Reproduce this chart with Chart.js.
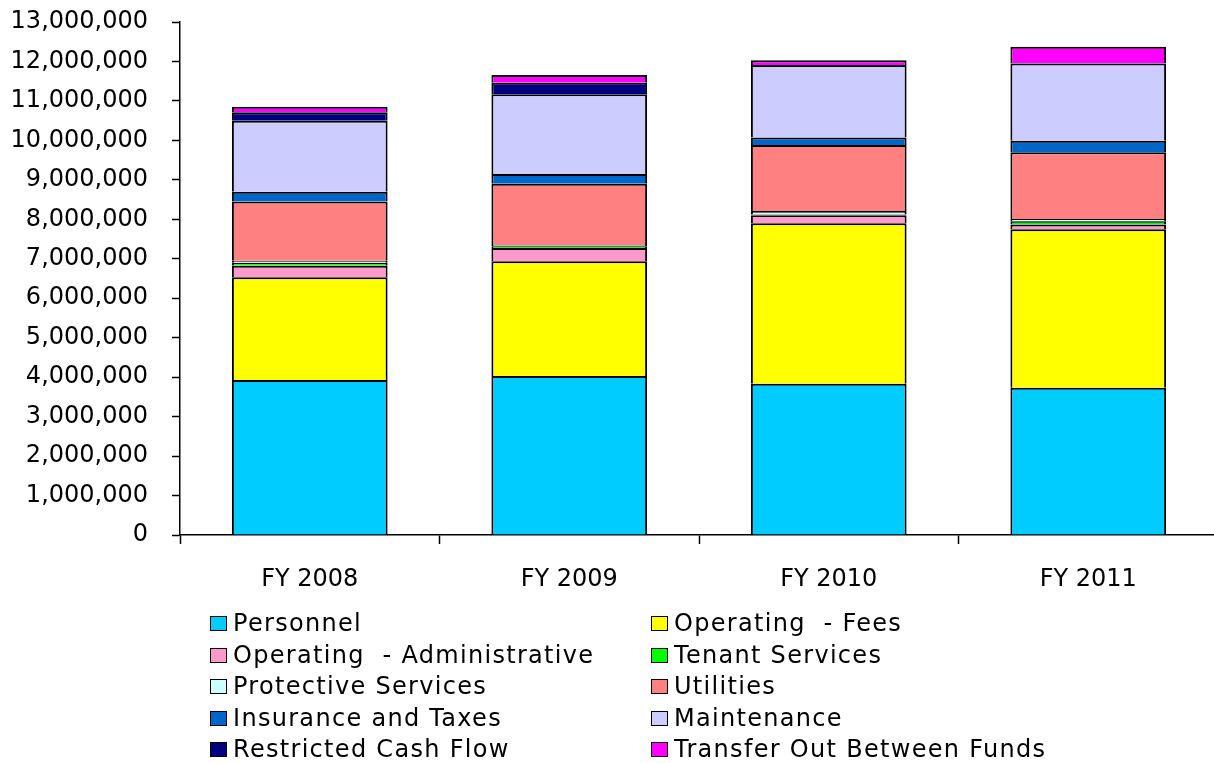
<!DOCTYPE html>
<html>
<head>
<meta charset="utf-8">
<script src="https://cdn.jsdelivr.net/npm/chart.js@4/dist/chart.umd.min.js"></script>
<style>
  html, body { margin: 0; padding: 0; background: #fff; overflow: hidden; }
  #wrap { position: relative; width: 1218px; height: 763px; }
  #legend { position: absolute; left: 0; top: 0; width: 1214px; height: 763px; pointer-events: none;
            font-family: "DejaVu Sans", Verdana, sans-serif; font-size: 24px; letter-spacing: 1.3px; color: #000; }
  .item { position: absolute; display: flex; align-items: center; white-space: pre; line-height: 1; }
  .box { width: 15px; height: 13px; border: 1.5px solid #000; margin-right: 6px; box-sizing: content-box; }
</style>
</head>
<body>
<div id="wrap">
  <canvas id="c"></canvas>
  <div id="legend"></div>
</div>
<script>
const categories = ["FY 2008", "FY 2009", "FY 2010", "FY 2011"];
const seriesNames = ["Personnel", "Operating  - Fees", "Operating  - Administrative", "Tenant Services",
  "Protective Services", "Utilities", "Insurance and Taxes", "Maintenance", "Restricted Cash Flow",
  "Transfer Out Between Funds"];
const personnel   = [3930000, 4030000, 3830000, 3730000];
const opFees      = [2600000, 2910000, 4070000, 4020000];
const opAdmin     = [290000, 330000, 200000, 120000];
const tenant      = [80000, 50000, 20000, 80000];
const protective  = [50000, 30000, 90000, 60000];
const utilities   = [1500000, 1550000, 1670000, 1690000];
const insurance   = [250000, 250000, 190000, 290000];
const maintenance = [1800000, 2020000, 1840000, 1960000];
const restricted  = [210000, 290000, 0, 10000];
const transfer    = [140000, 200000, 120000, 410000];
const colors = ["#00CCFF", "#FFFF00", "#FF99CC", "#00FF00", "#CCFFFF", "#FF8080", "#0066CC", "#CCCCFF", "#000080", "#FF00FF"];
const yMax = 13000000, yStep = 1000000;

const allData = [personnel, opFees, opAdmin, tenant, protective, utilities, insurance, maintenance, restricted, transfer];
const FONT = "DejaVu Sans";

new Chart(document.getElementById("c"), {
  type: "bar",
  data: {
    labels: categories,
    datasets: allData.map((d, i) => ({
      label: seriesNames[i],
      data: d,
      backgroundColor: colors[i],
      borderColor: "#000",
      borderWidth: 2,
      barPercentage: 0.6,
      categoryPercentage: 1.0
    }))
  },
  options: {
    responsive: true,
    maintainAspectRatio: false,
    animation: false,
    layout: { padding: { top: 22, left: 0, right: 0, bottom: 168 } },
    plugins: { legend: { display: false }, tooltip: { enabled: false } },
    scales: {
      x: {
        stacked: true,
        afterFit: (s) => { s.height = 60; s.paddingLeft = 0; s.paddingRight = 0; },
        border: { display: true, color: "#000", width: 1.5 },
        grid: { display: true, drawOnChartArea: false, drawTicks: true, tickLength: 9, tickWidth: 1.5, tickColor: "#000", color: "#000", offset: true },
        ticks: { color: "#000", font: { family: FONT, size: 24 }, padding: 21, maxRotation: 0 }
      },
      y: {
        stacked: true,
        min: 0, max: yMax,
        afterFit: (s) => { s.width = 180; s.paddingTop = 0; s.paddingBottom = 0; },
        border: { display: true, color: "#000", width: 1.5 },
        grid: { display: true, drawOnChartArea: false, drawTicks: true, tickLength: 8, tickWidth: 1.5, tickColor: "#000", color: "#000" },
        ticks: {
          stepSize: yStep, color: "#000", font: { family: FONT, size: 24 }, padding: 24,
          callback: (v) => Number(v).toLocaleString("en-US")
        }
      }
    }
  }
});

// legend in two columns
const legend = document.getElementById("legend");
const colX = [210, 651];
const rowY = [623, 655, 686, 718, 749];
seriesNames.forEach((name, i) => {
  const el = document.createElement("div");
  el.className = "item";
  el.style.left = colX[i % 2] + "px";
  el.style.top = (rowY[Math.floor(i / 2)] - 12) + "px";
  el.style.height = "24px";
  const b = document.createElement("span");
  b.className = "box";
  b.style.background = colors[i];
  const t = document.createElement("span");
  t.textContent = name;
  el.appendChild(b); el.appendChild(t);
  legend.appendChild(el);
});
</script>
</body>
</html>
